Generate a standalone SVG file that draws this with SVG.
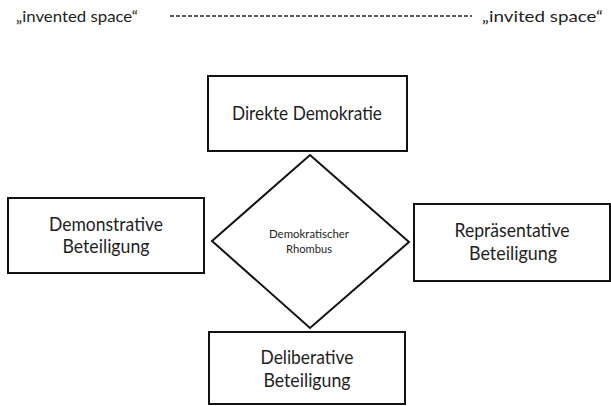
<svg xmlns="http://www.w3.org/2000/svg" width="611" height="406" viewBox="0 0 611 406">
<style>
.box{fill:#fff;stroke:#111;stroke-width:2}
.t{font-family:Lato,"Open Sans","Liberation Sans",sans-serif;fill:#1e1e1e;text-anchor:middle}
.n{font-size:19px}
.s{font-size:12px}
.h{font-size:16px;text-anchor:start}
.dash{stroke:#222;stroke-width:1.5;stroke-dasharray:4 2;fill:none}
</style>
<rect width="611" height="406" fill="#fff"/>
<g id="header">
<text class="t h" x="16" y="22" textLength="122" lengthAdjust="spacingAndGlyphs">„invented space“</text>
<text class="t h" x="482" y="22" textLength="121" lengthAdjust="spacingAndGlyphs">„invited space“</text>
</g>
<g id="connectors">
<line class="dash" x1="170" y1="16" x2="472" y2="16"/>
</g>
<g id="direkte">
<rect class="box" x="208" y="76" width="199" height="75"/>
<text class="t n" x="307" y="120" textLength="150" lengthAdjust="spacingAndGlyphs">Direkte Demokratie</text>
</g>
<g id="demonstrative">
<rect class="box" x="8" y="198" width="196" height="75"/>
<text class="t n" x="106" y="231" textLength="114" lengthAdjust="spacingAndGlyphs">Demonstrative</text>
<text class="t n" x="106" y="253" textLength="87" lengthAdjust="spacingAndGlyphs">Beteiligung</text>
</g>
<g id="rhombus">
<polygon class="box" points="310,155 409,242 310,328 212,241"/>
<text class="t s" x="309" y="238" textLength="80" lengthAdjust="spacingAndGlyphs">Demokratischer</text>
<text class="t s" x="309" y="253" textLength="46" lengthAdjust="spacingAndGlyphs">Rhombus</text>
</g>
<g id="repraesentative">
<rect class="box" x="414" y="204" width="196" height="77"/>
<text class="t n" x="512" y="237" textLength="115" lengthAdjust="spacingAndGlyphs">Repräsentative</text>
<text class="t n" x="513" y="260" textLength="88" lengthAdjust="spacingAndGlyphs">Beteiligung</text>
</g>
<g id="deliberative">
<rect class="box" x="209" y="332" width="196" height="72"/>
<text class="t n" x="307" y="364" textLength="93" lengthAdjust="spacingAndGlyphs">Deliberative</text>
<text class="t n" x="307" y="387" textLength="87" lengthAdjust="spacingAndGlyphs">Beteiligung</text>
</g>
</svg>
